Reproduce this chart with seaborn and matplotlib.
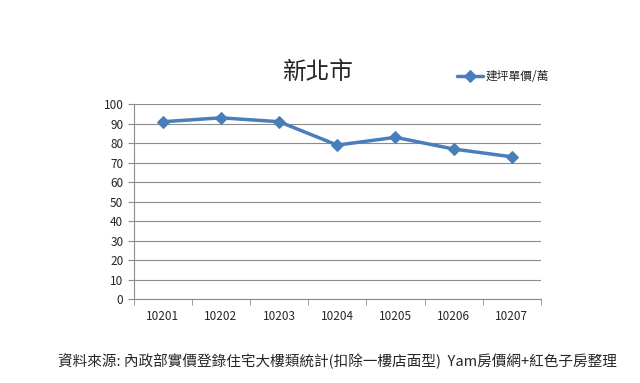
import numpy as np
import pandas as pd
import matplotlib
matplotlib.use('Agg')
import matplotlib.pyplot as plt
import seaborn as sns

months = ['10201', '10202', '10203', '10204', '10205', '10206', '10207']
price = [91, 93, 91, 79, 83, 77, 73]
series_name = '建坪單價/萬'
title = '新北市'
source_note = '資料來源: 內政部實價登錄住宅大樓類統計(扣除一樓店面型)  Yam房價網+紅色子房整理'

sns.set_style('white')
plt.rcParams['font.family'] = ['Noto Sans CJK TC', 'DejaVu Sans']

df = pd.DataFrame({'month': months, series_name: price})

fig = plt.figure(figsize=(6.4, 3.83), dpi=100)
ax = fig.add_axes([0.209, 0.219, 0.636, 0.509])

sns.lineplot(data=df, x='month', y=series_name, ax=ax, color='#4a7ebb',
             linewidth=2.5, marker='D', markersize=6, markeredgecolor='#4a7ebb',
             label=series_name)

ax.set_ylim(0, 100)
ax.set_yticks(np.arange(0, 101, 10))
ax.set_xlim(-0.5, len(months) - 0.5)
ax.set_xlabel('')
ax.set_ylabel('')
ax.grid(axis='y', color='#8c8c8c', linewidth=0.8)
ax.set_axisbelow(True)

for s in ['top', 'right']:
    ax.spines[s].set_visible(False)
for s in ['left', 'bottom']:
    ax.spines[s].set_color('#8c8c8c')
    ax.spines[s].set_linewidth(0.8)

ax.set_xticks(np.arange(-0.5, len(months), 1.0), minor=True)
ax.tick_params(axis='x', which='major', length=0, labelsize=8.5, pad=8)
ax.tick_params(axis='x', which='minor', length=4, color='#8c8c8c', direction='out')
ax.tick_params(axis='y', length=4, color='#8c8c8c', direction='out', labelsize=8.5, left=True)
ax.tick_params(axis='x', bottom=True, which='both')

fig.text(0.497, 0.81, title, ha='center', va='center', fontsize=17)
ax.legend(loc='center left', bbox_to_anchor=(0.698, 0.80), bbox_transform=fig.transFigure,
          frameon=False, fontsize=8.5, handlelength=2.2, handletextpad=0.2)
fig.text(0.09, 0.057, source_note, ha='left', va='center', fontsize=10.5)

fig.savefig('out.png', dpi=100, facecolor='white')
